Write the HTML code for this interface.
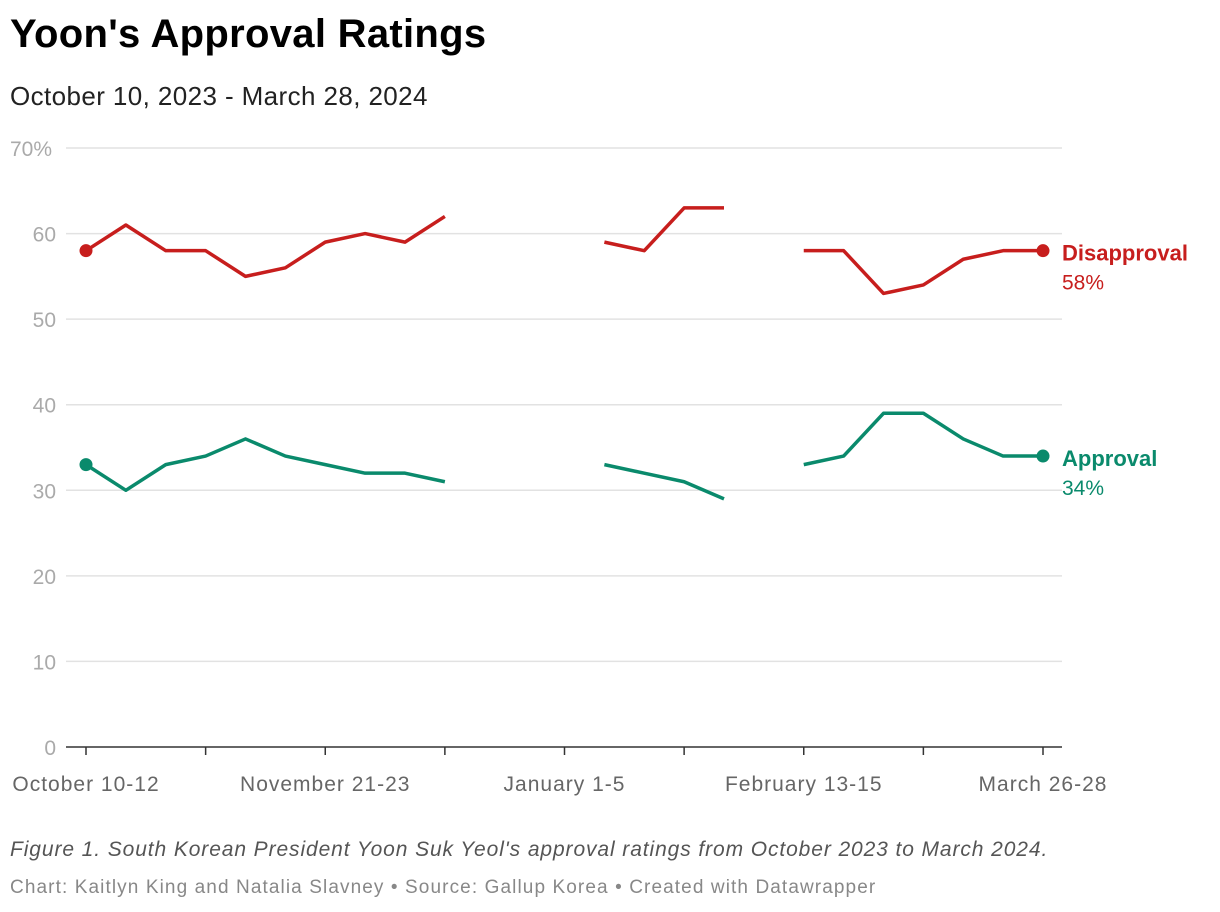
<!DOCTYPE html>
<html><head><meta charset="utf-8"><style>
body{margin:0;background:#fff;width:1220px;height:912px;overflow:hidden;font-family:"Liberation Sans",Roboto,sans-serif}
h1{position:absolute;left:10px;top:12px;margin:0;font-size:40px;font-weight:bold;color:#000;letter-spacing:0.3px}
.sub{position:absolute;left:10px;top:81px;font-size:26px;color:#222;letter-spacing:0.4px}
.note{position:absolute;left:10px;top:838px;font-size:21px;font-style:italic;color:#555;letter-spacing:0.9px}
.src{position:absolute;left:10px;top:877px;font-size:19px;color:#888;letter-spacing:1.1px}
svg{position:absolute;left:0;top:0}
</style></head><body>
<h1>Yoon's Approval Ratings</h1>
<div class="sub">October 10, 2023 - March 28, 2024</div>
<svg id="c" width="1220" height="912"></svg>
<div class="note">Figure 1. South Korean President Yoon Suk Yeol's approval ratings from October 2023 to March 2024.</div>
<div class="src">Chart: Kaitlyn King and Natalia Slavney • Source: Gallup Korea • Created with Datawrapper</div>
<script>
const disapproval=[58,61,58,58,55,56,59,60,59,62,null,null,null,59,58,63,63,null,58,58,53,54,57,58,58];
const approval=[33,30,33,34,36,34,33,32,32,31,null,null,null,33,32,31,29,null,33,34,39,39,36,34,34];
const yTicks=[0,10,20,30,40,50,60,70];
const xTickLabels={0:"October 10-12",6:"November 21-23",12:"January 1-5",18:"February 13-15",24:"March 26-28"};
const NS="http://www.w3.org/2000/svg",svg=document.getElementById('c');
const X=i=>86+i*(1043-86)/24, Y=v=>747-v*(747-148)/70;
function mk(t,a,p){const e=document.createElementNS(NS,t);for(const k in a)e.setAttribute(k,a[k]);(p||svg).appendChild(e);return e;}
yTicks.forEach(v=>{
 if(v>0){const g=mk('line',{x1:66,x2:1062,y1:Y(v),y2:Y(v),stroke:'#e2e2e2','stroke-width':1.5});
 
 }
 const t=mk('text',{x:56,y:Y(v)+8,'text-anchor':'end','font-size':21,fill:'#aaa','font-family':'Liberation Sans,sans-serif'});
 t.textContent=v;
 if(v===70){t.setAttribute('text-anchor','start');t.setAttribute('x',10);t.textContent='70%';}
 
 
});
const ax=mk('line',{x1:66,x2:1062,y1:747,y2:747,stroke:'#333','stroke-width':1.5});


for(let i=0;i<25;i+=3){const tk=mk('line',{x1:X(i),x2:X(i),y1:747,y2:755,stroke:'#333','stroke-width':1.5});
 
 }
for(const k in xTickLabels){const t=mk('text',{x:X(+k),y:791,'text-anchor':'middle','font-size':21,fill:'#666','letter-spacing':1,'font-family':'Liberation Sans,sans-serif'});
 t.textContent=xTickLabels[k];
 
 }
function series(data,col,name,label){
 let d='',pen=false;
 data.forEach((v,i)=>{if(v==null){pen=false;return;}d+=(pen?'L':'M')+X(i)+' '+Y(v);pen=true;});
 const p=mk('path',{d:d,fill:'none',stroke:col,'stroke-width':3.5,'stroke-linejoin':'round'});
 
 
 [0,data.length-1].forEach(i=>{const c=mk('circle',{cx:X(i),cy:Y(data[i]),r:6.5,fill:col});
  
  });
 const ly=Y(data[data.length-1]);
 const t1=mk('text',{x:1062,y:ly+10,'font-size':22,'font-weight':'bold',fill:col,'font-family':'Liberation Sans,sans-serif'});
 t1.textContent=label;
 
 
 const t2=mk('text',{x:1062,y:ly+39,'font-size':21,fill:col,'font-family':'Liberation Sans,sans-serif'});
 t2.textContent=data[data.length-1]+'%';
 
 
}
series(disapproval,'#c71e1d','disapproval','Disapproval');
series(approval,'#0a8a6c','approval','Approval');
</script>
</body></html>
